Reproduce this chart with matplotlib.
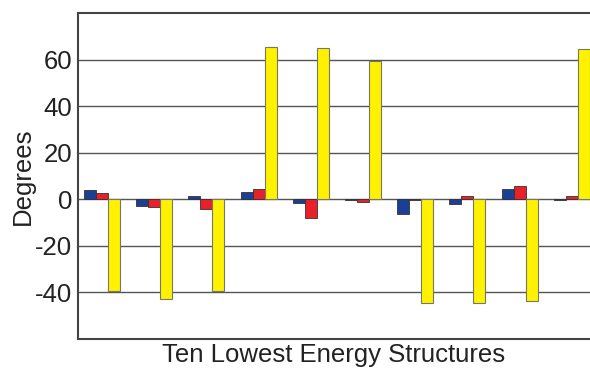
import numpy as np
import matplotlib
matplotlib.use("Agg")
import matplotlib.pyplot as plt

plt.rcParams['font.family'] = ['Liberation Sans', 'DejaVu Sans']
plt.rcParams['axes.unicode_minus'] = False

# values per structure (degrees)
blue_vals = [4, -3, 1.5, 3, -1.5, -0.5, -6.5, -2, 4.5, -0.5]
red_vals = [2.5, -3.5, -4, 4.5, -8, -1, -0.5, 1.5, 5.5, 1.5]
yellow_vals = [-39.5, -43, -39.5, 65.5, 65, 59.5, -44.5, -44.5, -43.5, 64.5]
yticks = [-40, -20, 0, 20, 40, 60]

x = np.arange(len(blue_vals))
w = 0.23

fig = plt.figure(figsize=(5.9, 3.68), dpi=100)
ax = fig.add_axes([78 / 590, 1 - 339 / 368, 1 - 78 / 590, (339 - 13) / 368])

for y in yticks:
    ax.axhline(y, color='#555555', lw=1.0, zorder=1)

ax.bar(x - w, blue_vals, w, color='#1c3f95', edgecolor='#333333', lw=0.6, zorder=2)
ax.bar(x, red_vals, w, color='#e8202a', edgecolor='#333333', lw=0.6, zorder=2)
ax.bar(x + w, yellow_vals, w, color='#fff200', edgecolor='#777766', lw=0.8, zorder=2)

ax.set_xlim(-0.46, 9.35)
ax.set_ylim(-60, 80)
ax.set_yticks(yticks)
ax.set_xticks([])
ax.tick_params(axis='y', length=0, pad=4, labelsize=18.5, labelcolor='#222222')

for s in ['left', 'top', 'bottom']:
    ax.spines[s].set_color('#444444')
    ax.spines[s].set_linewidth(1.5)
ax.spines['right'].set_visible(False)

ax.set_ylabel('Degrees', fontsize=18.5, color='#222222', labelpad=0)
ax.set_xlabel('Ten Lowest Energy Structures', fontsize=18.5, color='#222222', labelpad=3)

fig.savefig('out.png', dpi=100)
